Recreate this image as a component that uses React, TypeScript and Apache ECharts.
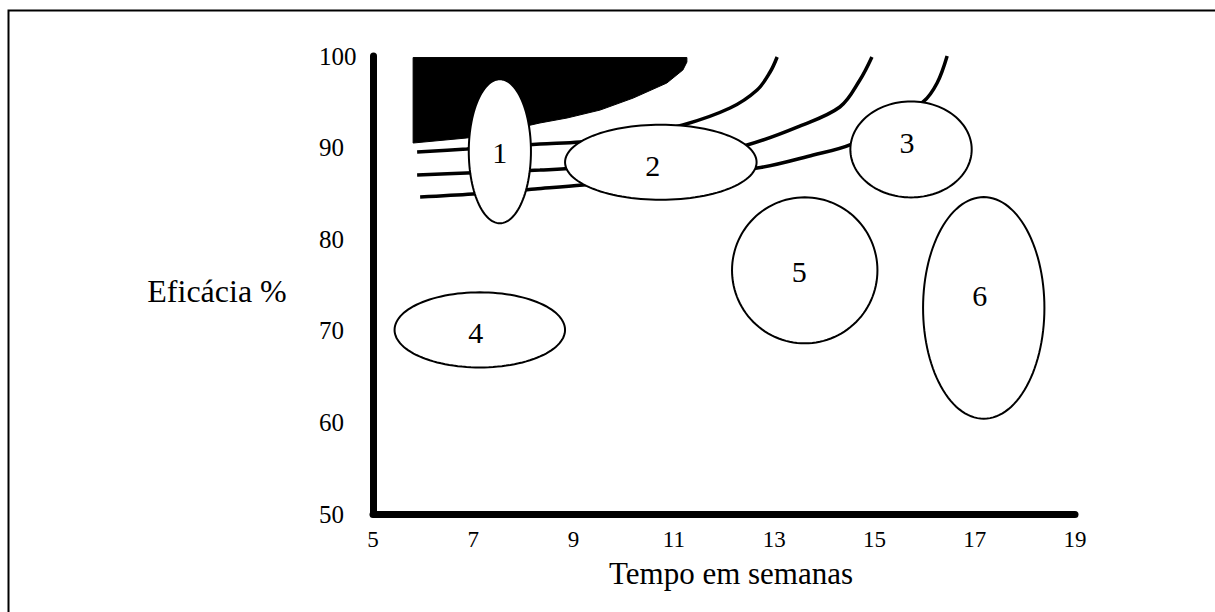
import React, { useEffect, useRef } from "react";
import * as echarts from "echarts";

// Axes
const X_MIN = 5;
const X_MAX = 19;
const X_STEP = 2;
const Y_MIN = 50;
const Y_MAX = 100;
const Y_STEP = 10;
const xTitle = "Tempo em semanas";
const yTitle = "Eficácia %";

// Ellipses (centre, radii in data units) and their numbers
const ellipseIds = ["1", "2", "3", "4", "5", "6"];
const ellipseCx = [7.53, 10.74, 15.73, 7.13, 13.61, 17.18];
const ellipseCy = [89.6, 88.4, 89.8, 70.1, 76.6, 72.5];
const ellipseRx = [0.62, 1.91, 1.21, 1.7, 1.45, 1.21];
const ellipseRy = [7.86, 4.1, 5.24, 4.1, 7.97, 12.1];
const labelX = [7.53, 10.58, 15.65, 7.05, 13.5, 17.1];
const labelY = [89.5, 88.1, 90.6, 69.8, 76.5, 73.8];

// Curves
const curveA: [number, number][] = [
  [5.88, 89.52], [6.87, 89.85], [8.33, 90.39], [9.13, 90.61], [10.13, 91.27],
  [11.18, 92.47], [12.12, 94.32], [12.66, 96.29], [12.92, 98.25], [13.06, 99.89],
];
const curveB: [number, number][] = [
  [5.88, 87.01], [6.87, 87.23], [8.33, 87.55], [9.33, 87.88], [11.52, 89.19],
  [12.46, 90.28], [13.46, 92.24], [14.31, 94.43], [14.71, 97.38], [14.95, 99.89],
];
const curveC: [number, number][] = [
  [5.94, 84.61], [6.99, 84.93], [8.23, 85.48], [9.19, 85.92], [10.92, 86.9],
  [12.66, 87.77], [13.78, 89.19], [14.55, 90.39], [15.21, 92.47], [15.97, 94.98],
  [16.25, 97.05], [16.45, 100.0],
];

// Black filled region (top-left)
const fillX = [5.8, 11.26, 11.26, 11.18, 10.86, 10.19, 9.53, 8.87, 8.33, 7.53, 6.87, 5.8];
const fillY = [99.83, 99.83, 99.34, 98.47, 97.05, 95.41, 94.1, 93.23, 92.69, 91.7, 91.05, 90.5];

const SERIF = "'Liberation Serif', 'Times New Roman', serif";

export default function App() {
  const ref = useRef<HTMLDivElement>(null);
  useEffect(() => {
    if (!ref.current) return;
    const chart = echarts.init(ref.current, null, { renderer: "svg" });
    const ellipseData = ellipseIds.map((id, i) => [ellipseCx[i], ellipseCy[i], ellipseRx[i], ellipseRy[i], i]);
    const lineSeries = [curveA, curveB, curveC].map((c) => ({
      type: "line",
      data: c,
      smooth: 0.35,
      showSymbol: false,
      symbol: "none",
      z: 2,
      lineStyle: { color: "#000", width: 3.5 },
      silent: true,
    }));
    chart.setOption({
      animation: false,
      backgroundColor: "#fff",
      grid: { left: 373, right: 140, top: 56, bottom: 98, containLabel: false },
      xAxis: {
        type: "value",
        min: X_MIN,
        max: X_MAX,
        interval: X_STEP,
        axisLine: { show: true, lineStyle: { color: "#000", width: 7 } },
        axisTick: { show: false },
        splitLine: { show: false },
        axisLabel: { color: "#000", fontFamily: SERIF, fontSize: 23, margin: 14 },
      },
      yAxis: {
        type: "value",
        min: Y_MIN,
        max: Y_MAX,
        interval: Y_STEP,
        axisLine: { show: true, lineStyle: { color: "#000", width: 7 } },
        axisTick: { show: false },
        splitLine: { show: false },
        axisLabel: { color: "#000", fontFamily: SERIF, fontSize: 25, margin: 54, align: "left" },
      },
      graphic: [
        {
          type: "rect",
          shape: { x: 8.5, y: 10.5, width: 1300, height: 700 },
          style: { fill: "none", stroke: "#000", lineWidth: 2 },
          silent: true,
        },
        {
          type: "text",
          x: 217,
          y: 291,
          style: { text: yTitle, fill: "#000", font: `32px ${SERIF}`, align: "center", verticalAlign: "middle" },
        },
        {
          type: "text",
          x: 731,
          y: 573,
          style: { text: xTitle, fill: "#000", font: `31px ${SERIF}`, align: "center", verticalAlign: "middle" },
        },
      ],
      series: [
        {
          type: "custom",
          z: 1,
          silent: true,
          data: [[fillX[0], fillY[0]]],
          renderItem: (params: any, api: any) => {
            const pts = fillX.map((x, i) => api.coord([x, fillY[i]]));
            return { type: "polygon", shape: { points: pts }, style: { fill: "#000", stroke: "#000", lineWidth: 1 } };
          },
        },
        ...lineSeries,
        {
          type: "custom",
          z: 3,
          silent: true,
          data: ellipseData,
          encode: { x: 0, y: 1 },
          renderItem: (params: any, api: any) => {
            const i = api.value(4);
            const c = api.coord([api.value(0), api.value(1)]);
            const s = api.size([api.value(2), api.value(3)]);
            const pts: number[][] = [];
            const N = 120;
            for (let k = 0; k < N; k++) {
              const t = (k / N) * Math.PI * 2;
              pts.push([c[0] + s[0] * Math.cos(t), c[1] + s[1] * Math.sin(t)]);
            }
            const lp = api.coord([labelX[i], labelY[i]]);
            return {
              type: "group",
              children: [
                { type: "polygon", shape: { points: pts }, style: { fill: "#fff", stroke: "#000", lineWidth: 2 } },
                {
                  type: "text",
                  x: lp[0],
                  y: lp[1],
                  style: { text: ellipseIds[i], fill: "#000", font: `30px ${SERIF}`, align: "center", verticalAlign: "middle" },
                },
              ],
            };
          },
        },
      ],
    });
    return () => chart.dispose();
  }, []);
  return (
    <div
      ref={ref}
      style={{ position: "absolute", left: 0, top: 0, width: 1215, height: 612, background: "#fff" }}
    />
  );
}
